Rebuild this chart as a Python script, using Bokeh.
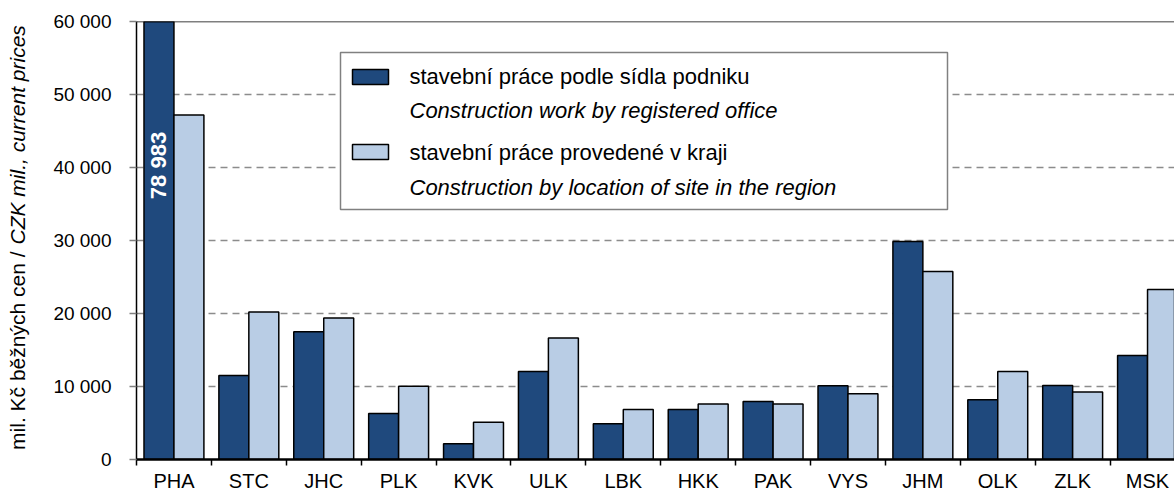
import math
from bokeh.plotting import figure
from bokeh.layouts import row
from bokeh.models import (Range1d, FixedTicker, Label, BoxAnnotation, Span,
                          ColumnDataSource)
from bokeh.transform import dodge
from bokeh.embed import file_html
from bokeh.resources import INLINE

# ---------------- data ----------------
regions = ["PHA", "STC", "JHC", "PLK", "KVK", "ULK", "LBK",
           "HKK", "PAK", "VYS", "JHM", "OLK", "ZLK", "MSK"]
by_office = [78983, 11500, 17500, 6300, 2150, 12050, 4900,
             6850, 7950, 10100, 29850, 8200, 10150, 14250]
by_site = [47200, 20200, 19400, 10050, 5100, 16650, 6850,
           7600, 7600, 9000, 25750, 12050, 9250, 23300]
y_ticks = [0, 10000, 20000, 30000, 40000, 50000, 60000]
y_tick_labels = ["0", "10 000", "20 000", "30 000", "40 000", "50 000", "60 000"]
y_title_cz = "mil. Kč běžných cen /"
y_title_en = "CZK mil., current prices"
legend_cz = ["stavební práce podle sídla podniku", "stavební práce  provedené v kraji"]
legend_en = ["Construction work by registered office",
             "Construction by location of site in the region"]

DARK = "#1F497D"
LIGHT = "#B9CDE5"
FONT = "Liberation Sans"
H = 494
W_LEFT = 40

n = len(regions)
centers = [i + 0.5 for i in range(n)]
src = ColumnDataSource(dict(x=centers, office=by_office, site=by_site))

# ---------- narrow strip holding the y-axis title ----------
pl = figure(width=W_LEFT, height=H, x_range=Range1d(0, 1), y_range=Range1d(0, 1),
            x_axis_type=None, y_axis_type=None,
            output_backend="svg", toolbar_location=None, min_border=0)
pl.outline_line_color = None
pl.grid.grid_line_color = None
# upright part ends at the junction, italic part starts just after it
pl.add_layout(Label(x=17, y=208, x_units="screen", y_units="screen",
                    angle=math.pi / 2, text=y_title_cz, text_font=FONT,
                    text_font_size="21px", text_align="right",
                    text_baseline="middle", text_color="black"))
pl.add_layout(Label(x=17, y=215, x_units="screen", y_units="screen",
                    angle=math.pi / 2, text=y_title_en, text_font=FONT,
                    text_font_size="21px", text_font_style="italic",
                    text_align="left", text_baseline="middle",
                    text_color="black"))

# ---------- main chart ----------
p = figure(width=1174 - W_LEFT, height=H,
           x_range=Range1d(0, 13.86), y_range=Range1d(0, 60000),
           output_backend="svg", toolbar_location=None,
           min_border_left=96, min_border_right=0,
           min_border_top=21, min_border_bottom=30)
p.outline_line_color = None
p.background_fill_color = "white"
p.border_fill_color = "white"

p.vbar(x=dodge("x", -0.2), top="office", width=0.4, source=src,
       fill_color=DARK, line_color="black", line_width=1.5)
p.vbar(x=dodge("x", 0.2), top="site", width=0.4, source=src,
       fill_color=LIGHT, line_color="black", line_width=1.5)

# grid
p.xgrid.grid_line_color = None
p.ygrid.grid_line_color = "#8c8c8c"
p.ygrid.grid_line_dash = "7 5"
p.ygrid.grid_line_width = 1.5
p.add_layout(Span(location=y_ticks[-1], dimension="width",
                  line_color="black", line_width=1.5))

# y axis
p.yaxis.ticker = FixedTicker(ticks=y_ticks)
p.yaxis.major_label_overrides = dict(zip(y_ticks, y_tick_labels))
p.yaxis.major_tick_out = 7
p.yaxis.major_tick_in = 0
p.yaxis.major_tick_line_color = "#808080"
p.yaxis.major_tick_line_width = 1.5
p.yaxis.minor_tick_line_color = None
p.yaxis.axis_line_color = "black"
p.yaxis.axis_line_width = 1.5
p.yaxis.major_label_text_font = FONT
p.yaxis.major_label_text_font_size = "19px"
p.yaxis.major_label_text_color = "black"
p.yaxis.major_label_standoff = 18

# x axis
p.xaxis.ticker = FixedTicker(ticks=centers, minor_ticks=list(range(n + 1)))
p.xaxis.major_label_overrides = dict(zip(centers, regions))
p.xaxis.major_tick_line_color = None
p.xaxis.major_tick_out = 0
p.xaxis.major_tick_in = 0
p.xaxis.minor_tick_out = 6
p.xaxis.minor_tick_in = 0
p.xaxis.minor_tick_line_color = "black"
p.xaxis.minor_tick_line_width = 1.5
p.xaxis.axis_line_color = "black"
p.xaxis.axis_line_width = 2.5
p.xaxis.major_label_text_font = FONT
p.xaxis.major_label_text_font_size = "20px"
p.xaxis.major_label_text_color = "black"
p.xaxis.major_label_standoff = 4

# value label on truncated PHA bar
p.add_layout(Label(x=centers[0] - 0.2, y=294, x_units="data", y_units="screen",
                   angle=math.pi / 2,
                   text=f"{by_office[0]:,}".replace(",", " "),
                   text_font=FONT, text_font_size="22px",
                   text_font_style="bold", text_color="white",
                   text_align="center", text_baseline="middle"))

# legend (manual)
p.add_layout(BoxAnnotation(left=204, right=811, top=407, bottom=250,
                           left_units="screen", right_units="screen",
                           top_units="screen", bottom_units="screen",
                           fill_color="white", fill_alpha=1.0,
                           line_color="#808080", line_width=1.5,
                           line_alpha=1.0))
for (top, bot), col in zip([(390, 375), (315, 300)], [DARK, LIGHT]):
    p.add_layout(BoxAnnotation(left=216, right=252, top=top, bottom=bot,
                               left_units="screen", right_units="screen",
                               top_units="screen", bottom_units="screen",
                               fill_color=col, fill_alpha=1.0,
                               line_color="black", line_width=1.5,
                               line_alpha=1.0))
for txt, yy in zip(legend_cz, [383, 307]):
    p.add_layout(Label(x=273, y=yy, x_units="screen", y_units="screen",
                       text=txt, text_font=FONT, text_font_size="22px",
                       text_baseline="middle", text_color="black"))
for txt, yy in zip(legend_en, [349, 272]):
    p.add_layout(Label(x=273, y=yy, x_units="screen", y_units="screen",
                       text=txt, text_font=FONT, text_font_size="22px",
                       text_font_style="italic",
                       text_baseline="middle", text_color="black"))

open("out.html", "w").write(file_html(row(pl, p), INLINE))
